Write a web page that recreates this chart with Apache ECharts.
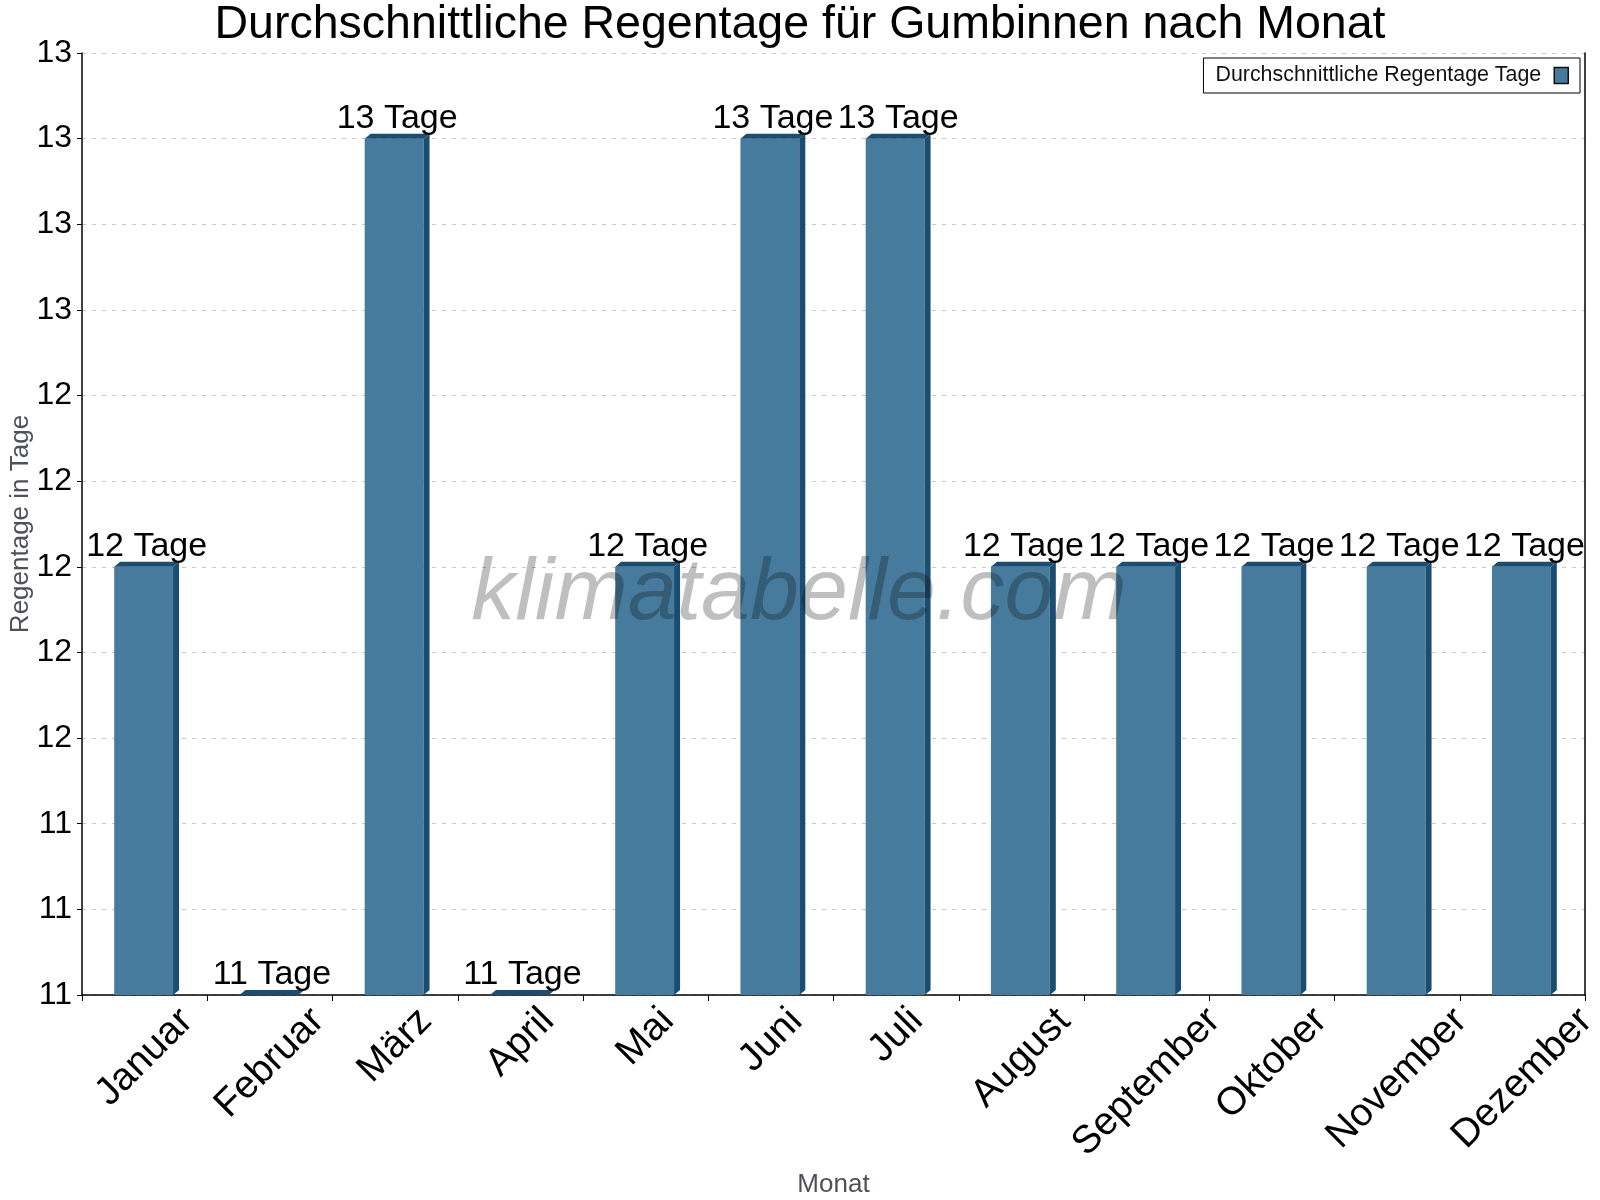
<!DOCTYPE html>
<html>
<head>
<meta charset="utf-8">
<title>Regentage Gumbinnen</title>
<script src="https://cdn.jsdelivr.net/npm/echarts@6/dist/echarts.min.js"></script>
<style>
  html, body { margin: 0; padding: 0; background: #fff; }
  #chart { width: 1600px; height: 1200px; }
</style>
</head>
<body>
<div id="chart"></div>
<script>
// Daten
const months = ['Januar', 'Februar', 'März', 'April', 'Mai', 'Juni',
  'Juli', 'August', 'September', 'Oktober', 'November', 'Dezember']
const rainDays = [12, 11, 13, 11, 12, 13, 13, 12, 12, 12, 12, 12]
const seriesName = 'Durchschnittliche Regentage Tage'
// y-Achse: Ticks 11.0 .. 13.2, Beschriftung gerundet
const yMin = 11
const yMax = 13.2
const yStep = 0.2

const FONT = '"Liberation Sans", Arial, sans-serif'
const frontColor = '#477b9d'
const darkColor = '#1b4d70'
const xLabelSize = 39

// gedrehte Monatsnamen: Box mittig unter dem Tick, oben bündig
// -> je nach Textlänge etwas Padding oben/rechts
const measureCtx = document.createElement('canvas').getContext('2d')
measureCtx.font = xLabelSize + 'px ' + FONT
const monthRich = {}
months.forEach((m, i) => {
  const p = Math.round(measureCtx.measureText(m).width * 0.5)
  monthRich['m' + i] = {
    fontSize: xLabelSize, color: '#000', fontFamily: FONT,
    padding: [p, p, 0, 0]
  }
})

// 3D-Balken: Vorderseite + rechte Seite + Deckel
function renderBar(params, api) {
  const val = api.value(1)
  const top = api.coord([api.value(0), val])
  const base = api.coord([api.value(0), yMin])
  const w = api.size([1, 0])[0] * 0.47
  const dx = 6, dy = 5
  const x0 = top[0] - w / 2 - 1
  const x1 = x0 + w
  const t = top[1], b = base[1]
  return {
    type: 'group',
    children: [
      { type: 'rect', shape: { x: x0, y: t, width: w, height: b - t }, style: { fill: frontColor } },
      { type: 'polygon', shape: { points: [[x1, t], [x1 + dx, t - dy], [x1 + dx, b - dy], [x1, b]] }, style: { fill: darkColor } },
      { type: 'polygon', shape: { points: [[x0, t], [x0 + dx, t - dy], [x1 + dx, t - dy], [x1, t]] }, style: { fill: darkColor } },
      {
        type: 'text',
        style: {
          text: Math.round(val) + ' Tage',
          x: (x0 + x1 + dx) / 2, y: t - dy + 2,
          align: 'center', verticalAlign: 'bottom',
          font: '34px ' + FONT, fill: '#000'
        }
      }
    ]
  }
}

const chart = echarts.init(document.getElementById('chart'))
chart.setOption({
  animation: false,
  backgroundColor: '#fff',
  textStyle: { fontFamily: FONT },
  title: {
    text: 'Durchschnittliche Regentage für Gumbinnen nach Monat',
    left: 'center',
    top: -3,
    textStyle: { fontSize: 46.5, fontWeight: 'normal', color: '#000', fontFamily: FONT }
  },
  legend: {
    right: 20,
    top: 58,
    orient: 'horizontal',
    align: 'right',
    padding: [7, 11, 7, 12],
    borderColor: '#000',
    borderWidth: 1,
    itemWidth: 14,
    itemHeight: 16,
    textStyle: { fontSize: 21.4, color: '#111', fontFamily: FONT, padding: [0, 8, 0, 0] },
    data: [{ name: seriesName, icon: 'rect', itemStyle: { color: frontColor, borderColor: '#111', borderWidth: 1.5 } }]
  },
  graphic: [{
    type: 'text',
    x: 799,
    y: 595,
    z: 100,
    silent: true,
    style: {
      text: 'klimatabelle.com',
      font: 'italic 88px ' + FONT,
      fill: 'rgba(0,0,0,0.25)',
      align: 'center',
      verticalAlign: 'middle'
    }
  }],
  grid: { left: 82, right: 15, top: 53, bottom: 205, containLabel: false, outerBoundsMode: 'none' },
  xAxis: {
    type: 'category',
    data: months,
    name: 'Monat',
    nameLocation: 'middle',
    nameGap: 177,
    nameMoveOverlap: false,
    nameTextStyle: { fontSize: 26, color: '#4d5259', fontFamily: FONT },
    axisLine: { lineStyle: { color: '#000', width: 1.5 } },
    axisTick: { show: true, length: 6, lineStyle: { color: '#000' } },
    axisLabel: {
      interval: 0,
      rotate: 45,
      align: 'center',
      verticalAlign: 'middle',
      margin: 20,
      formatter: (v, i) => '{m' + i + '|' + v + '}',
      rich: monthRich
    },
    splitLine: { show: false }
  },
  yAxis: [{
    type: 'value',
    min: yMin,
    max: yMax,
    interval: yStep,
    name: 'Regentage in Tage',
    nameLocation: 'middle',
    nameGap: 48,
    nameMoveOverlap: false,
    nameTextStyle: { fontSize: 26, color: '#4d5259', fontFamily: FONT },
    axisLine: { show: true, lineStyle: { color: '#000', width: 1.5 } },
    axisTick: { show: true, length: 5, lineStyle: { color: '#000' } },
    axisLabel: {
      fontSize: 32,
      color: '#000',
      margin: 10,
      fontFamily: FONT,
      formatter: v => String(Math.round(v))
    },
    splitLine: { show: true, lineStyle: { color: '#c8c8c8', type: [4, 6], width: 1 } }
  }, {
    type: 'value',
    position: 'right',
    min: yMin,
    max: yMax,
    interval: yStep,
    axisLine: { show: true, lineStyle: { color: '#000', width: 1.5 } },
    axisTick: { show: false },
    axisLabel: { show: false },
    splitLine: { show: false }
  }],
  series: [{
    name: seriesName,
    type: 'custom',
    renderItem: renderBar,
    itemStyle: { color: frontColor },
    encode: { x: 0, y: 1 },
    data: rainDays.map((v, i) => [i, v])
  }]
})
</script>
</body>
</html>
